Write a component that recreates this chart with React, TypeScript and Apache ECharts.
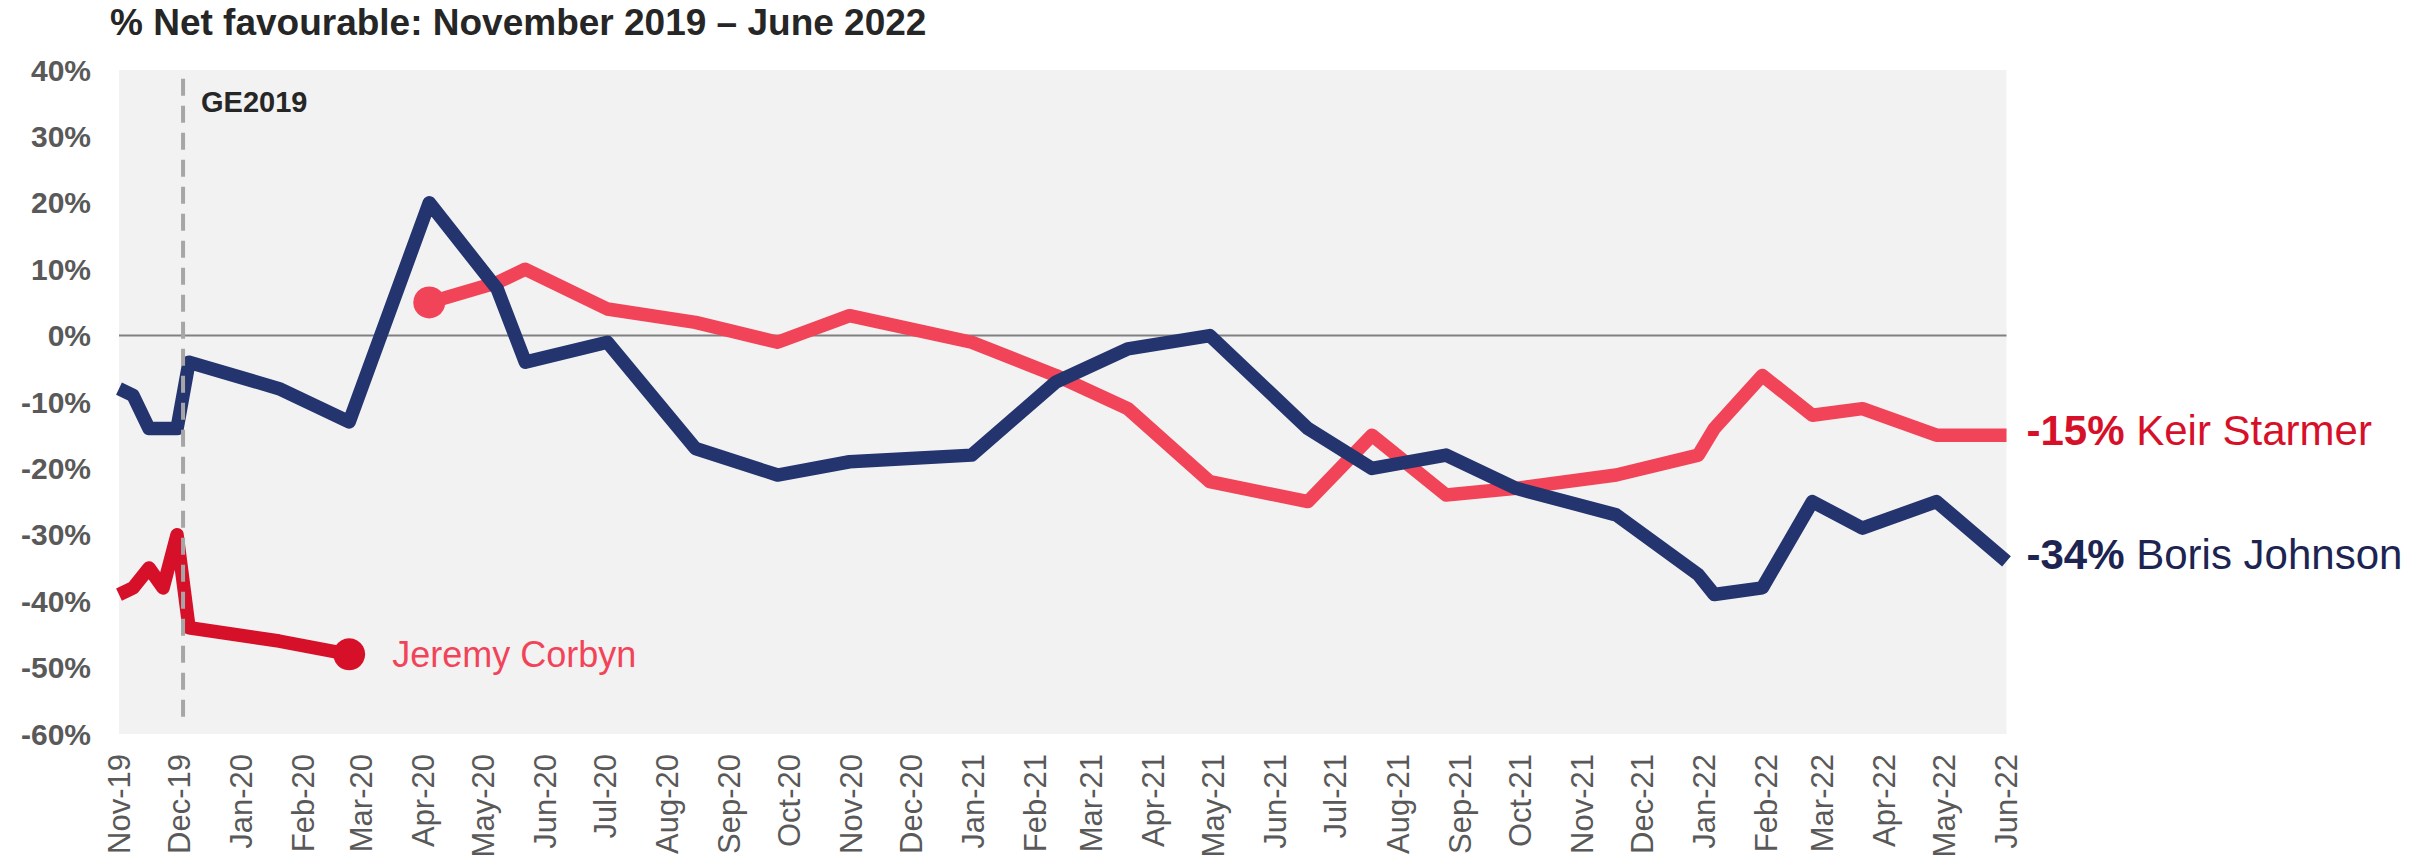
import React, { useEffect, useRef } from 'react';
import * as echarts from 'echarts';

// ---------- DATA ----------
const START_DATE = '2019-11-01';
const END_DATE = '2022-06-01';

const monthLabels = [
  'Nov-19', 'Dec-19', 'Jan-20', 'Feb-20', 'Mar-20', 'Apr-20', 'May-20', 'Jun-20',
  'Jul-20', 'Aug-20', 'Sep-20', 'Oct-20', 'Nov-20', 'Dec-20', 'Jan-21', 'Feb-21',
  'Mar-21', 'Apr-21', 'May-21', 'Jun-21', 'Jul-21', 'Aug-21', 'Sep-21', 'Oct-21',
  'Nov-21', 'Dec-21', 'Jan-22', 'Feb-22', 'Mar-22', 'Apr-22', 'May-22', 'Jun-22',
];

const yTicks = [-60, -50, -40, -30, -20, -10, 0, 10, 20, 30, 40];

const borisDates = [
  '2019-11-01', '2019-11-08', '2019-11-16', '2019-11-23', '2019-11-30', '2019-12-06',
  '2020-01-20', '2020-02-24', '2020-04-04', '2020-05-08', '2020-05-22', '2020-07-02',
  '2020-08-15', '2020-09-25', '2020-10-31', '2020-12-31', '2021-02-11', '2021-03-19',
  '2021-04-29', '2021-06-17', '2021-07-19', '2021-08-25', '2021-09-29', '2021-11-18',
  '2021-12-29', '2022-01-06', '2022-01-30', '2022-02-24', '2022-03-21', '2022-04-27',
  '2022-06-01',
];
const borisValues = [
  -8, -9, -14, -14, -14, -4,
  -8, -13, 20, 7, -4, -1,
  -17, -21, -19, -18, -7, -2,
  0, -14, -20, -18, -23, -27,
  -36, -39, -38, -25, -29, -25,
  -34,
];

const keirDates = [
  '2020-04-04', '2020-05-08', '2020-05-22', '2020-07-02', '2020-08-15', '2020-09-25',
  '2020-10-31', '2020-12-31', '2021-02-11', '2021-03-19', '2021-04-29', '2021-06-17',
  '2021-07-19', '2021-08-25', '2021-09-29', '2021-11-18', '2021-12-29', '2022-01-06',
  '2022-01-30', '2022-02-24', '2022-03-21', '2022-04-27', '2022-06-01',
];
const keirValues = [
  5, 8, 10, 4, 2, -1,
  3, -1, -6, -11, -22, -25,
  -15, -24, -23, -21, -18, -14,
  -6, -12, -11, -15, -15,
];

const corbynDates = [
  '2019-11-01', '2019-11-08', '2019-11-16', '2019-11-23', '2019-11-30', '2019-12-06',
  '2020-01-20', '2020-02-24',
];
const corbynValues = [-39, -38, -35, -38, -30, -44, -46, -48];

const geDate = '2019-12-03';
const geExtent = [38.7, -58.4];

const names = { boris: 'Boris Johnson', keir: 'Keir Starmer', corbyn: 'Jeremy Corbyn' };
const titleText = '% Net favourable: November 2019 \u2013 June 2022';
const geLabel = 'GE2019';

// ---------- HELPERS ----------
const DAY = 86400000;
const toDay = (d: string) => (Date.parse(d) - Date.parse(START_DATE)) / DAY;
const monthOffsets = monthLabels.map(
  (_, i) => (Date.UTC(2019, 10 + i, 1) - Date.parse(START_DATE)) / DAY
);
const labelByOffset = new Map<number, string>();
monthOffsets.forEach((o, i) => labelByOffset.set(Math.round(o), monthLabels[i]));

const pairs = (dates: string[], vals: number[]) => dates.map((d, i) => [toDay(d), vals[i]]);

const FONT = '"Liberation Sans", Arial, Helvetica, sans-serif';
const NAVY = '#24346F';
const PINK = '#F24458';
const RED = '#D7102A';
const BORIS_TEXT = '#1D2451';
const LINE_W = 13.5;

export default function App() {
  const ref = useRef<HTMLDivElement>(null);

  useEffect(() => {
    if (!ref.current) return;
    const chart = echarts.init(ref.current, undefined, { renderer: 'svg' });
    const xMax = toDay(END_DATE);
    const borisLast = borisValues[borisValues.length - 1];
    const keirLast = keirValues[keirValues.length - 1];
    const geX = toDay(geDate);

    const baseLine = {
      type: 'line',
      symbol: 'none',
      clip: true,
      silent: true,
    };

    const option: any = {
      animation: false,
      backgroundColor: '#FFFFFF',
      textStyle: { fontFamily: FONT },
      grid: {
        left: 119,
        right: 426.5,
        top: 70,
        bottom: 125,
        show: true,
        backgroundColor: '#F2F2F2',
        borderWidth: 0,
        containLabel: false,
        outerBoundsMode: 'none',
      },
      xAxis: {
        type: 'value',
        min: 0,
        max: xMax,
        axisLine: { show: false },
        axisTick: { show: false },
        splitLine: { show: false },
        axisLabel: {
          customValues: monthOffsets,
          rotate: 90,
          margin: 20,
          fontSize: 31,
          color: '#595959',
          fontFamily: FONT,
          hideOverlap: false,
          formatter: (v: number) => labelByOffset.get(Math.round(v)) ?? '',
        },
      },
      yAxis: {
        type: 'value',
        min: yTicks[0],
        max: yTicks[yTicks.length - 1],
        interval: 10,
        axisLine: { show: false },
        axisTick: { show: false },
        splitLine: { show: false },
        axisLabel: {
          formatter: '{value}%',
          fontSize: 30,
          fontWeight: 'bold',
          color: '#595959',
          fontFamily: FONT,
          margin: 28,
        },
      },
      graphic: [
        {
          type: 'text',
          x: 110,
          y: 22,
          style: {
            text: titleText,
            font: `bold 37px ${FONT}`,
            fill: '#262626',
            verticalAlign: 'middle',
            align: 'left',
          },
        },
        {
          type: 'text',
          x: 201,
          y: 102,
          z: 100,
          style: {
            text: geLabel,
            font: `bold 29px ${FONT}`,
            fill: '#262626',
            verticalAlign: 'middle',
            align: 'left',
          },
        },
      ],
      series: [
        {
          ...baseLine,
          name: 'zero',
          data: [[0, 0], [xMax, 0]],
          lineStyle: { color: '#808080', width: 2 },
        },
        {
          ...baseLine,
          name: names.corbyn,
          data: pairs(corbynDates, corbynValues),
          lineStyle: { color: RED, width: LINE_W, cap: 'butt', join: 'round' },
          endLabel: {
            show: true,
            position: 'right',
            distance: 43,
            formatter: () => names.corbyn,
            color: PINK,
            fontSize: 36,
            fontFamily: FONT,
          },
        },
        {
          type: 'scatter',
          silent: true,
          symbol: 'circle',
          symbolSize: 32,
          itemStyle: { color: RED, opacity: 1 },
          data: [[toDay(corbynDates[corbynDates.length - 1]), corbynValues[corbynValues.length - 1]]],
        },
        {
          ...baseLine,
          name: names.keir,
          data: pairs(keirDates, keirValues),
          lineStyle: { color: PINK, width: LINE_W, cap: 'butt', join: 'round' },
          endLabel: {
            show: true,
            position: 'right',
            distance: 20,
            offset: [0, -5],
            formatter: () => `{v|${keirLast}%\u00A0}{n|${names.keir}}`,
            rich: {
              v: { fontSize: 42, fontWeight: 'bold', color: RED, fontFamily: FONT },
              n: { fontSize: 42, color: RED, fontFamily: FONT },
            },
          },
        },
        {
          type: 'scatter',
          silent: true,
          symbol: 'circle',
          symbolSize: 32,
          itemStyle: { color: PINK, opacity: 1 },
          data: [[toDay(keirDates[0]), keirValues[0]]],
        },
        {
          ...baseLine,
          name: names.boris,
          data: pairs(borisDates, borisValues),
          lineStyle: { color: NAVY, width: LINE_W, cap: 'butt', join: 'round' },
          endLabel: {
            show: true,
            position: 'right',
            distance: 20,
            offset: [0, -7],
            formatter: () => `{v|${borisLast}%\u00A0}{n|${names.boris}}`,
            rich: {
              v: { fontSize: 42, fontWeight: 'bold', color: BORIS_TEXT, fontFamily: FONT },
              n: { fontSize: 42, color: BORIS_TEXT, fontFamily: FONT },
            },
          },
        },
        {
          ...baseLine,
          name: 'GE2019 line',
          data: [[geX, geExtent[0]], [geX, geExtent[1]]],
          lineStyle: { color: '#A6A6A6', width: 4, type: [17, 10], cap: 'butt' },
        },
      ],
    };

    chart.setOption(option);
    return () => chart.dispose();
  }, []);

  return (
    <div
      ref={ref}
      style={{ position: 'absolute', left: 0, top: 0, width: 2433, height: 859 }}
    />
  );
}
